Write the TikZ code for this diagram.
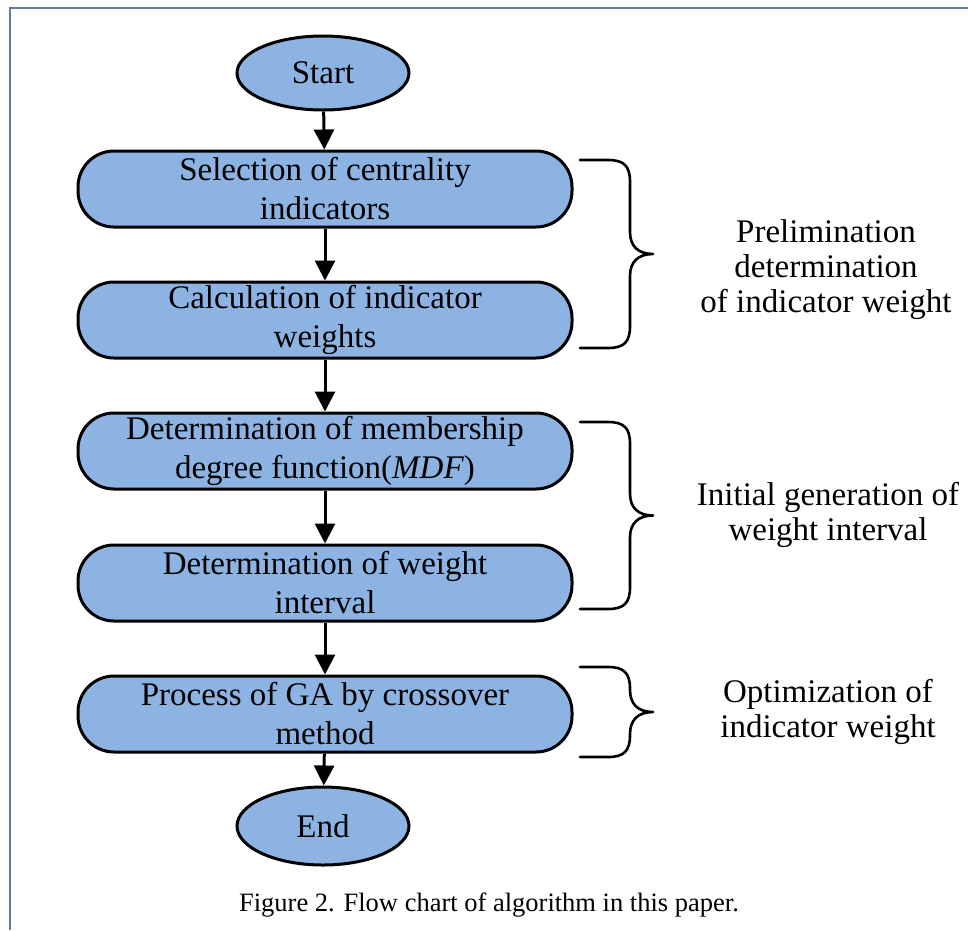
\documentclass[tikz,border=0pt]{standalone}
\usepackage{fontspec}
\setmainfont{Liberation Serif}
\usetikzlibrary{arrows.meta,shapes.geometric}
\definecolor{boxblue}{RGB}{141,179,226}
\definecolor{framec}{RGB}{96,124,160}
\newcommand{\drawbrace}[2]{%
  \pgfmathsetmacro{\ym}{(#1+#2)/2}%
  \draw[bracestyle] (580,#1) -- (608,#1) .. controls (624,#1) and (630,#1+6) .. (630,#1+22)
    -- (630,\ym-22) .. controls (630,\ym-8) and (638,\ym) .. (653,\ym)
    .. controls (638,\ym) and (630,\ym+8) .. (630,\ym+22)
    -- (630,#2-22) .. controls (630,#2-6) and (624,#2) .. (608,#2) -- (580,#2);}
\begin{document}
\begin{tikzpicture}[x=1pt,y=-1pt,
  termnode/.style={ellipse,draw=black,fill=boxblue,line width=3pt,minimum width=172pt,minimum height=74pt,inner sep=0pt,font=\fontsize{33}{39}\selectfont},
  procbox/.style={rectangle,rounded corners=36pt,draw=black,fill=boxblue,line width=3pt,minimum width=494pt,minimum height=76pt,inner sep=0pt,align=center,font=\fontsize{33}{39}\selectfont},
  arr/.style={line width=3pt,-{Triangle[length=20pt,width=20pt]}},
  bracestyle/.style={line width=2.6pt,line cap=round,line join=round},
  lab/.style={align=center,font=\fontsize{33}{35}\selectfont},
  captext/.style={font=\fontsize{26.5}{30}\selectfont}]
\useasboundingbox (0,0) rectangle (968,930);
\draw[framec,line width=2.5pt] (10,930) -- (10,8) -- (968,8);
\node[termnode] (start) at (323,73) {Start};
\node[procbox] (b1) at (325,189) {Selection of centrality\\indicators};
\node[procbox] (b2) at (325,320) {Calculation of indicator\\weights};
\node[procbox] (b3) at (325,451) {Determination of membership\\degree function(\textit{MDF})};
\node[procbox] (b4) at (325,583) {Determination of weight\\interval};
\node[procbox] (b5) at (325,714) {Process of GA by crossover\\method};
\node[termnode,minimum height=78pt] (end) at (323,826) {End};
\draw[arr] (start) -- (b1);
\draw[arr] (b1) -- (b2);
\draw[arr] (b2) -- (b3);
\draw[arr] (b3) -- (b4);
\draw[arr] (b4) -- (b5);
\draw[arr] (b5) -- (end);
\drawbrace{160}{348}
\drawbrace{422}{609}
\drawbrace{667}{757}
\node[lab] (l1) at (826,270) {Prelimination\\determination\\of indicator weight};
\node[lab] (l2) at (828,515) {Initial generation of\\weight interval};
\node[lab] (l3) at (828,712) {Optimization of\\indicator weight};
\node[captext] (caption) at (489,905) {Figure 2. Flow chart of algorithm in this paper.};
\end{tikzpicture}
\end{document}
